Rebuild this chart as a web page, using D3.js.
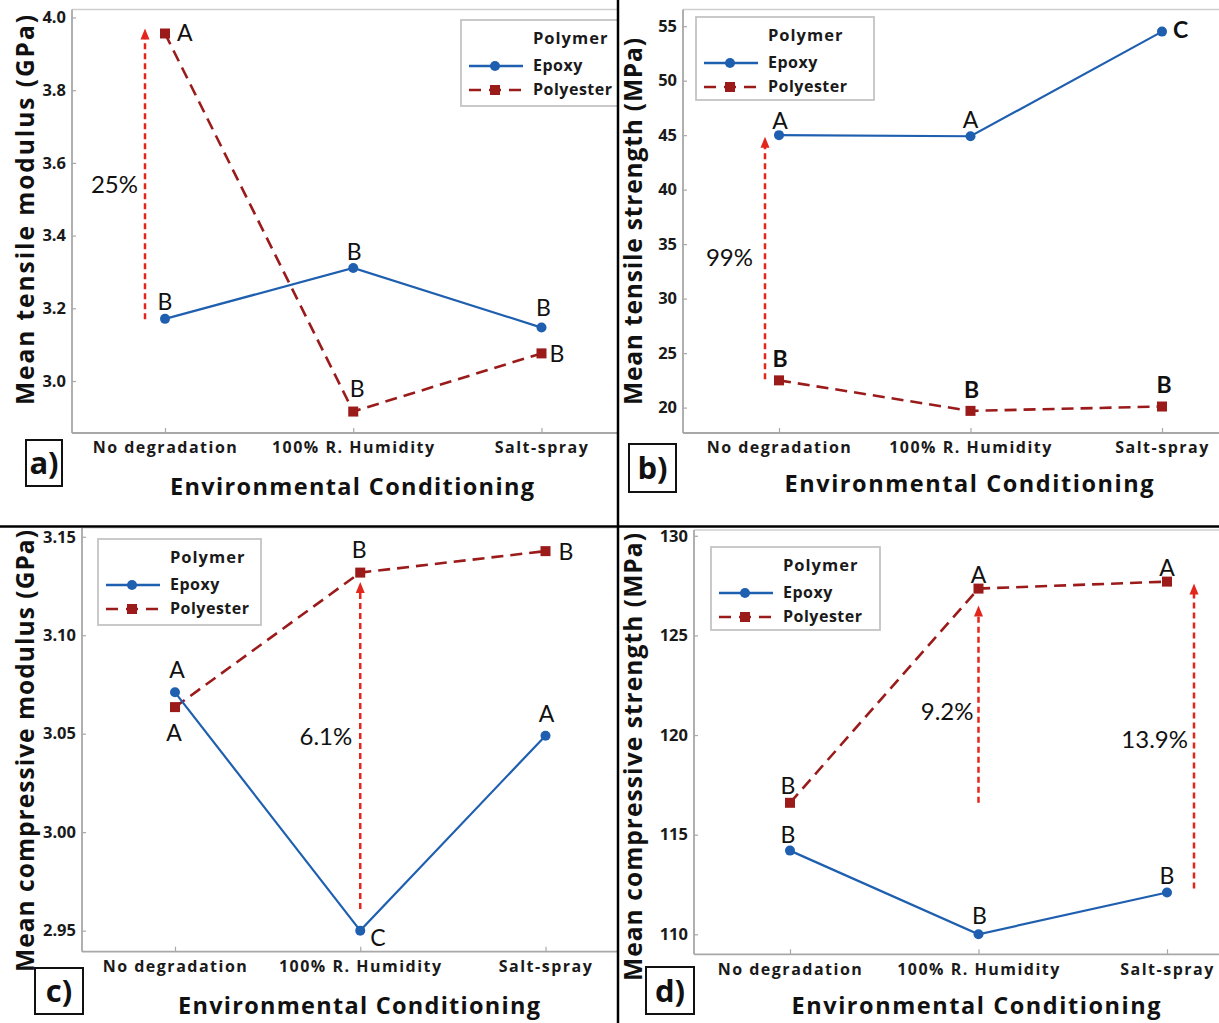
<!DOCTYPE html>
<html>
<head>
<meta charset="utf-8">
<script src="https://cdn.jsdelivr.net/npm/d3@7"></script>
<style>
  html, body { margin: 0; padding: 0; background: #fff; }
  svg { display: block; }
</style>
</head>
<body>
<svg id="chart" width="1219" height="1023"></svg>
<script>
// ---------------- DATA ----------------
const categories = ["No degradation", "100% R. Humidity", "Salt-spray"];
const seriesNames = ["Epoxy", "Polyester"];
const legendTitle = "Polymer";
const xTitle = "Environmental Conditioning";

// a) tensile modulus (GPa)
const tensileModulusEpoxy = [3.171, 3.311, 3.147];
const tensileModulusPolyester = [3.956, 2.916, 3.076];
const tensileModulusTicks = [3.0, 3.2, 3.4, 3.6, 3.8, 4.0];
const tensileModulusTickLabels = ["3.0", "3.2", "3.4", "3.6", "3.8", "4.0"];
const tensileModulusEpoxyGroups = ["B", "B", "B"];
const tensileModulusPolyesterGroups = ["A", "B", "B"];
const tensileModulusArrowFrom = [3.17];
const tensileModulusArrowTo = [3.97];
const tensileModulusArrowLabels = ["25%"];

// b) tensile strength (MPa)
const tensileStrengthEpoxy = [45.0, 44.9, 54.5];
const tensileStrengthPolyester = [22.5, 19.7, 20.1];
const tensileStrengthTicks = [20, 25, 30, 35, 40, 45, 50, 55];
const tensileStrengthTickLabels = ["20", "25", "30", "35", "40", "45", "50", "55"];
const tensileStrengthEpoxyGroups = ["A", "A", "C"];
const tensileStrengthPolyesterGroups = ["B", "B", "B"];
const tensileStrengthArrowFrom = [22.6];
const tensileStrengthArrowTo = [44.85];
const tensileStrengthArrowLabels = ["99%"];

// c) compressive modulus (GPa)
const compModulusEpoxy = [3.071, 2.950, 3.049];
const compModulusPolyester = [3.0635, 3.1318, 3.1427];
const compModulusTicks = [2.95, 3.00, 3.05, 3.10, 3.15];
const compModulusTickLabels = ["2.95", "3.00", "3.05", "3.10", "3.15"];
const compModulusEpoxyGroups = ["A", "C", "A"];
const compModulusPolyesterGroups = ["A", "B", "B"];
const compModulusArrowFrom = [2.961];
const compModulusArrowTo = [3.127];
const compModulusArrowLabels = ["6.1%"];

// d) compressive strength (MPa)
const compStrengthEpoxy = [114.2, 110.0, 112.1];
const compStrengthPolyester = [116.6, 127.35, 127.7];
const compStrengthTicks = [110, 115, 120, 125, 130];
const compStrengthTickLabels = ["110", "115", "120", "125", "130"];
const compStrengthEpoxyGroups = ["B", "B", "B"];
const compStrengthPolyesterGroups = ["B", "A", "A"];
const compStrengthArrowFrom = [116.6, 112.3];
const compStrengthArrowTo = [126.5, 127.6];
const compStrengthArrowLabels = ["9.2%", "13.9%"];

// ---------------- STYLE / LAYOUT ----------------
const C_EPOXY = "#1f5fb0";
const C_POLY = "#9b1a1a";
const C_ARROW = "#e3261b";
const C_AXIS = "#a8a8a8";
const FONT_BOLD = "'Open Sans', 'DejaVu Sans', sans-serif";
const FONT_LET = "Lato, 'Open Sans', sans-serif";

const panels = [
  {
    id: "a", clip: [0, 0, 617, 526],
    plot: { left: 72, right: 617, top: 9.5, bottom: 433 },
    xRange: [165, 541.5], yDomain: [2.857, 4.022],
    epoxy: tensileModulusEpoxy, poly: tensileModulusPolyester,
    ticks: tensileModulusTicks, tickLabels: tensileModulusTickLabels,
    eg: tensileModulusEpoxyGroups, pg: tensileModulusPolyesterGroups,
    egPos: [[0, -9, "middle"], [1, -8, "middle"], [2, -12, "middle"]],
    pgPos: [[12, 8, "start"], [4, -15, "middle"], [8, 9, "start"]],
    arrows: { from: tensileModulusArrowFrom, to: tensileModulusArrowTo, labels: tensileModulusArrowLabels,
              cat: [0], dx: [-20], lx: [-7], ly: [193] },
    yTitle: "Mean tensile modulus (GPa)", yTitleX: 24, yTitleSpan: [15, 405],
    xTitleX: 352, xTitleY: 495, xTitleLen: 364,
    catY: 453,
    legend: { x: 461, y: 20, w: 170, h: 86 },
    tag: { x: 26, y: 440, w: 36, h: 46, text: "a)" }
  },
  {
    id: "b", clip: [619, 0, 600, 526],
    plot: { left: 683, right: 1219, top: 9.5, bottom: 433 },
    xRange: [779, 1162], yDomain: [17.67, 56.53],
    epoxy: tensileStrengthEpoxy, poly: tensileStrengthPolyester,
    ticks: tensileStrengthTicks, tickLabels: tensileStrengthTickLabels,
    eg: tensileStrengthEpoxyGroups, pg: tensileStrengthPolyesterGroups,
    egPos: [[1, -6, "middle"], [0, -8, "middle"], [11, 6, "start", true]],
    pgPos: [[1, -13, "middle", true], [1, -13, "middle", true], [2, -14, "middle", true]],
    arrows: { from: tensileStrengthArrowFrom, to: tensileStrengthArrowTo, labels: tensileStrengthArrowLabels,
              cat: [0], dx: [-14], lx: [-12], ly: [266] },
    yTitle: "Mean tensile strength (MPa)", yTitleX: 632, yTitleSpan: [38, 405],
    xTitleX: 969, xTitleY: 492, xTitleLen: 369,
    catY: 453,
    legend: { x: 696, y: 17, w: 178, h: 83 },
    tag: { x: 629, y: 444, w: 47, h: 48, text: "b)" }
  },
  {
    id: "c", clip: [0, 528, 617, 495],
    plot: { left: 82, right: 617, top: 527.7, bottom: 951.7 },
    xRange: [175, 545.5], yDomain: [2.9393, 3.1546],
    epoxy: compModulusEpoxy, poly: compModulusPolyester,
    ticks: compModulusTicks, tickLabels: compModulusTickLabels,
    eg: compModulusEpoxyGroups, pg: compModulusPolyesterGroups,
    egPos: [[2, -14, "middle"], [10, 15, "start"], [1, -14, "middle"]],
    pgPos: [[-1, 34, "middle"], [-1, -15, "middle"], [13, 9, "start"]],
    arrows: { from: compModulusArrowFrom, to: compModulusArrowTo, labels: compModulusArrowLabels,
              cat: [1], dx: [0], lx: [-8], ly: [745] },
    yTitle: "Mean compressive modulus (GPa)", yTitleX: 24, yTitleSpan: [530, 972],
    xTitleX: 359, xTitleY: 1014, xTitleLen: 362,
    catY: 972,
    legend: { x: 98, y: 539, w: 163, h: 86 },
    tag: { x: 35, y: 968, w: 48, h: 46, text: "c)" }
  },
  {
    id: "d", clip: [619, 528, 600, 495],
    plot: { left: 694, right: 1219, top: 530, bottom: 954.3 },
    xRange: [790, 1167], yDomain: [108.997, 130.29],
    epoxy: compStrengthEpoxy, poly: compStrengthPolyester,
    ticks: compStrengthTicks, tickLabels: compStrengthTickLabels,
    eg: compStrengthEpoxyGroups, pg: compStrengthPolyesterGroups,
    egPos: [[-2, -8, "middle"], [1, -10, "middle"], [0, -8, "middle"]],
    pgPos: [[-2, -9, "middle"], [0, -6, "middle"], [0, -6, "middle"]],
    arrows: { from: compStrengthArrowFrom, to: compStrengthArrowTo, labels: compStrengthArrowLabels,
              cat: [1, 2], dx: [0, 27], lx: [-5, -6], ly: [720, 748] },
    yTitle: "Mean compressive strength (MPa)", yTitleX: 632, yTitleSpan: [533, 981],
    xTitleX: 976, xTitleY: 1014, xTitleLen: 369,
    catY: 975,
    legend: { x: 711, y: 547, w: 169, h: 83 },
    tag: { x: 646, y: 967, w: 48, h: 47, text: "d)" }
  }
];

const svg = d3.select("#chart");
svg.append("rect").attr("width", 1219).attr("height", 1023).attr("fill", "#fff");
const defs = svg.append("defs");

panels.forEach(p => {
  defs.append("clipPath").attr("id", "clip-" + p.id)
    .append("rect").attr("x", p.clip[0]).attr("y", p.clip[1])
    .attr("width", p.clip[2]).attr("height", p.clip[3]);

  const g = svg.append("g").attr("clip-path", `url(#clip-${p.id})`);

  const x = d3.scalePoint().domain(categories).range(p.xRange);
  const y = d3.scaleLinear().domain(p.yDomain).range([p.plot.bottom, p.plot.top]);

  // frame
  g.append("line").attr("x1", p.plot.left).attr("x2", p.plot.right)
    .attr("y1", p.plot.top).attr("y2", p.plot.top)
    .attr("stroke", "#cfcfcf").attr("stroke-width", 1.5);
  g.append("line").attr("x1", p.plot.left).attr("x2", p.plot.left)
    .attr("y1", p.plot.top).attr("y2", p.plot.bottom)
    .attr("stroke", C_AXIS).attr("stroke-width", 1.8);
  g.append("line").attr("x1", p.plot.left).attr("x2", p.plot.right)
    .attr("y1", p.plot.bottom).attr("y2", p.plot.bottom)
    .attr("stroke", C_AXIS).attr("stroke-width", 1.8);

  // y axis
  const yAx = g.append("g").attr("transform", `translate(${p.plot.left},0)`)
    .call(d3.axisLeft(y).tickValues(p.ticks).tickSize(-4).tickPadding(6)
      .tickFormat((d, i) => p.tickLabels[i]));
  yAx.select(".domain").remove();
  yAx.selectAll(".tick line").attr("stroke", C_AXIS).attr("stroke-width", 1.2);
  yAx.selectAll(".tick text").attr("font-family", FONT_BOLD).attr("font-weight", "bold")
    .attr("font-size", 16.5).attr("fill", "#1a1a1a");

  // x axis
  const xAx = g.append("g").attr("transform", `translate(0,${p.plot.bottom})`)
    .call(d3.axisBottom(x).tickSize(-5).tickPadding(0));
  xAx.select(".domain").remove();
  xAx.selectAll(".tick line").attr("stroke", C_AXIS).attr("stroke-width", 1.2);
  xAx.selectAll(".tick text").attr("font-family", FONT_BOLD).attr("font-weight", "bold")
    .attr("font-size", 16).attr("fill", "#1a1a1a").attr("letter-spacing", 1.5)
    .attr("dy", null).attr("y", p.catY - p.plot.bottom);

  // arrows
  p.arrows.from.forEach((v, i) => {
    const ax = x(categories[p.arrows.cat[i]]) + p.arrows.dx[i];
    g.append("line").attr("x1", ax).attr("x2", ax)
      .attr("y1", y(v)).attr("y2", y(p.arrows.to[i]) + 9)
      .attr("stroke", C_ARROW).attr("stroke-width", 2.5)
      .attr("stroke-dasharray", "6,4");
    g.append("path")
      .attr("d", `M${ax},${y(p.arrows.to[i])} l-4.5,11 l9,0 z`)
      .attr("fill", C_ARROW);
    g.append("text").attr("x", ax + p.arrows.lx[i]).attr("y", p.arrows.ly[i])
      .attr("text-anchor", "end").attr("font-family", FONT_LET)
      .attr("font-size", 24).attr("fill", "#111").text(p.arrows.labels[i]);
  });

  // lines
  const line = d3.line().x((d, i) => x(categories[i])).y(d => y(d));
  g.append("path").datum(p.poly).attr("d", line).attr("fill", "none")
    .attr("stroke", C_POLY).attr("stroke-width", 2.6).attr("stroke-dasharray", "12,7");
  g.append("path").datum(p.epoxy).attr("d", line).attr("fill", "none")
    .attr("stroke", C_EPOXY).attr("stroke-width", 2.2);

  // markers
  g.selectAll(".pm").data(p.poly).enter().append("rect")
    .attr("x", (d, i) => x(categories[i]) - 5).attr("y", d => y(d) - 5)
    .attr("width", 10).attr("height", 10).attr("fill", C_POLY);
  g.selectAll(".em").data(p.epoxy).enter().append("circle")
    .attr("cx", (d, i) => x(categories[i])).attr("cy", d => y(d))
    .attr("r", 5).attr("fill", C_EPOXY);

  // group letters
  const letters = (vals, groups, pos) => {
    vals.forEach((v, i) => {
      const ps = pos[i];
      g.append("text").attr("x", x(categories[i]) + ps[0]).attr("y", y(v) + ps[1])
        .attr("text-anchor", ps[2]).attr("font-family", FONT_LET)
        .attr("font-weight", ps[3] ? "bold" : "normal")
        .attr("font-size", 23).attr("fill", "#111").text(groups[i]);
    });
  };
  letters(p.epoxy, p.eg, p.egPos);
  letters(p.poly, p.pg, p.pgPos);

  // legend
  const L = p.legend;
  const lg = g.append("g").attr("transform", `translate(${L.x},${L.y})`);
  lg.append("rect").attr("width", L.w).attr("height", L.h).attr("fill", "#fff")
    .attr("stroke", "#c4c4c4").attr("stroke-width", 1.8);
  lg.append("text").attr("x", 72).attr("y", 24).attr("font-family", FONT_BOLD)
    .attr("font-weight", "bold").attr("font-size", 16.5).attr("letter-spacing", 1)
    .attr("fill", "#1a1a1a").text(legendTitle);
  [0, 1].forEach(k => {
    const ly = 46 + k * 24;
    lg.append("line").attr("x1", 8).attr("x2", 62).attr("y1", ly).attr("y2", ly)
      .attr("stroke", k === 0 ? C_EPOXY : C_POLY).attr("stroke-width", 2.6)
      .attr("stroke-dasharray", k === 0 ? null : "12,8");
    if (k === 0) {
      lg.append("circle").attr("cx", 34).attr("cy", ly).attr("r", 5).attr("fill", C_EPOXY);
    } else {
      lg.append("rect").attr("x", 29).attr("y", ly - 5).attr("width", 10).attr("height", 10).attr("fill", C_POLY);
    }
    lg.append("text").attr("x", 72).attr("y", ly + 5).attr("font-family", FONT_BOLD)
      .attr("font-weight", "bold").attr("font-size", 16).attr("letter-spacing", 0.5)
      .attr("fill", "#1a1a1a").text(seriesNames[k]);
  });

  // y title
  const yc = (p.yTitleSpan[0] + p.yTitleSpan[1]) / 2;
  g.append("text").attr("transform", `translate(${p.yTitleX},${yc}) rotate(-90)`)
    .attr("text-anchor", "middle").attr("dominant-baseline", "central")
    .attr("font-family", FONT_BOLD).attr("font-weight", "bold").attr("font-size", 24.5)
    .attr("fill", "#111")
    .attr("textLength", p.yTitleSpan[1] - p.yTitleSpan[0]).attr("lengthAdjust", "spacing")
    .text(p.yTitle);

  // x title
  g.append("text").attr("x", p.xTitleX).attr("y", p.xTitleY).attr("text-anchor", "middle")
    .attr("font-family", FONT_BOLD).attr("font-weight", "bold").attr("font-size", 23.5)
    .attr("fill", "#111")
    .attr("textLength", p.xTitleLen).attr("lengthAdjust", "spacing")
    .text(xTitle);

  // panel tag
  const T = p.tag;
  g.append("rect").attr("x", T.x).attr("y", T.y).attr("width", T.w).attr("height", T.h)
    .attr("fill", "none").attr("stroke", "#111").attr("stroke-width", 2);
  g.append("text").attr("x", T.x + T.w / 2).attr("y", T.y + T.h / 2 + 11)
    .attr("text-anchor", "middle").attr("font-family", FONT_BOLD).attr("font-weight", "bold")
    .attr("font-size", 31).attr("fill", "#111").text(T.text);
});

// panel dividers
svg.append("line").attr("x1", 618).attr("x2", 618).attr("y1", 0).attr("y2", 1023)
  .attr("stroke", "#000").attr("stroke-width", 2.5);
svg.append("line").attr("x1", 0).attr("x2", 1219).attr("y1", 526.5).attr("y2", 526.5)
  .attr("stroke", "#000").attr("stroke-width", 2.5);
</script>
</body>
</html>
